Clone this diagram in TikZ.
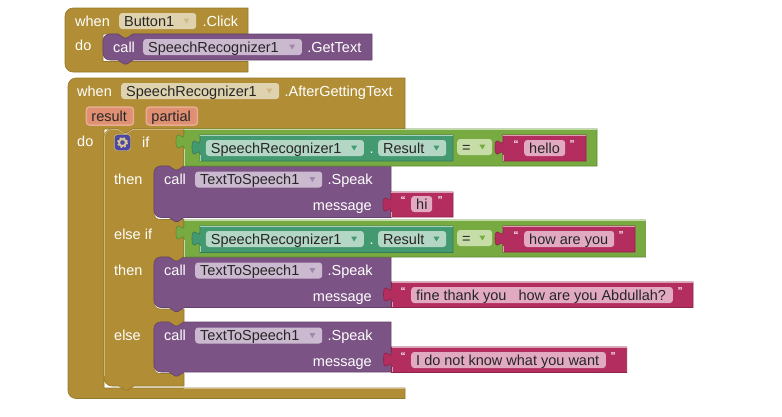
\documentclass[tikz,border=0pt]{standalone}
\usepackage{fontspec}
\setmainfont{Liberation Sans}
\usetikzlibrary{positioning}

\definecolor{goldc}{HTML}{B18E35}
\definecolor{purplec}{HTML}{7C5385}
\definecolor{greenc}{HTML}{77AB41}
\definecolor{tealc}{HTML}{439970}
\definecolor{pinkc}{HTML}{B32D5E}
\definecolor{goldpill}{HTML}{DFD2AE}
\definecolor{purplepill}{HTML}{CBBACF}
\definecolor{greenpill}{HTML}{C7DDA8}
\definecolor{tealpill}{HTML}{B4D6C5}
\definecolor{pinkpill}{HTML}{E1AAC1}
\definecolor{varfill}{HTML}{E08F72}
\definecolor{varline}{HTML}{E8AC92}
\definecolor{gearc}{HTML}{4B47A3}

\newcommand{\labelfont}{\fontsize{14.5}{16}\selectfont}
\newcommand{\notchR}{-- ++(6,4) -- ++(3,0) -- ++(6,-4)}
\newcommand{\notchL}{-- ++(-6,4) -- ++(-3,0) -- ++(-6,-4)}

\tikzset{
    blocktext/.style={text=white, font=\labelfont, inner sep=0pt, text height=13pt, text depth=3pt, anchor=west},
    fieldbox/.style={rounded corners=3pt, font=\labelfont, text=black!85, inner xsep=5pt, inner ysep=0pt,
        text height=13pt, text depth=3pt, anchor=west},
    varbox/.style={fieldbox, draw=varline, fill=varfill, line width=1.5pt, inner xsep=5pt, inner ysep=1pt},
    quotetext/.style={text=white, font=\fontsize{10}{10}\selectfont\bfseries, inner sep=0pt},
    gearbox/.style={draw=goldpill, fill=gearc, rounded corners=3pt, minimum size=16pt, inner sep=0pt}
}

% field with a dropdown triangle: name, x, y, width, colour, triangle colour, text
\newcommand{\fieldnode}[7]{
    \node[fieldbox, fill=#5] (#1) at (#2,#3) {\makebox[\dimexpr#4pt-10pt\relax][l]{#7}};
    \fill[#6] ([xshift=-13pt,yshift=2.5pt]#1.east) -- ++(6,0) -- ++(-3,5) -- cycle;
}
% plain field: name, x, y, width, colour, text
\newcommand{\textnode}[6]{
    \node[fieldbox, fill=#5] (#1) at (#2,#3) {\makebox[\dimexpr#4pt-10pt\relax][l]{#6}};
}
% socket block: colour, x0, y0, x1, y1
\newcommand{\valueblock}[5]{
    \path[fill=#1, draw=#1!80!black, line width=.6pt] (#2,#3) -- ++(0,5)
        .. controls +(0,10) and +(0,-15.5) .. ++(-8,7.5)
        .. controls +(0,15.5) and +(0,-10) .. ++(8,7.5)
        -- (#2,#5) -- (#4,#5) -- (#4,#3) -- cycle;
    \draw[#1!45!white, line width=.7pt] ({#2+.4},{#3+20}) -- ({#2+.4},{#5-.4}) (#2,{#3+.4}) -- (#4,{#3+.4});
}
% call block: x0, y0, x1, y1
\newcommand{\callblock}[4]{
    \path[fill=purplec, draw=purplec!80!black, line width=.6pt] (#1,{#2+9}) [rounded corners=7pt] -- (#1,#2) [sharp corners]
        -- ({#1+15},#2) \notchR -- (#3,#2) -- (#3,#4) -- ({#1+30},#4) \notchL -- ({#1+15},#4)
        [rounded corners=7pt] -- (#1,#4) [sharp corners] -- (#1,{#4-9}) -- cycle;
}

\begin{document}
\begin{tikzpicture}[x=1pt, y=-1pt]
    \useasboundingbox (0,0) rectangle (782,416);

    % When Button1
    \path[fill=goldc, draw=goldc!85!black, line width=.6pt] (65,18) [rounded corners=8pt] -- (65,8) [sharp corners]
        -- (248,8) -- (248,34) -- (133,34) \notchL -- (103,34) -- (103,61.5) -- (248,61.5) -- (248,72)
        [rounded corners=8pt] -- (65,72) [sharp corners] -- (65,62) -- cycle;
    \callblock{103}{34}{372}{60}
    \node[blocktext] (when1) at (75,21) {when};
    \fieldnode{button}{119}{21}{77}{goldpill}{goldc!60!white}{Button1}
    \node[blocktext, right=6pt of button] (click) {.Click};
    \node[blocktext] (do1) at (75,45) {do};
    \node[blocktext] (call1) at (113,47) {call};
    \fieldnode{recog1}{143}{47}{158.7}{purplepill}{purplec!70!white}{SpeechRecognizer1}
    \node[blocktext, right=5pt of recog1] (gettext) {.GetText};

    % When SpeechRecognizer1
    \path[fill=goldc, draw=goldc!85!black, line width=.6pt] (68,88) [rounded corners=8pt] -- (68,78) [sharp corners]
        -- (405,78) -- (405,129) -- (133,129) \notchL -- (104,129) -- (104,388) -- (405,388) -- (405,398.5)
        [rounded corners=8pt] -- (68,398.5) [sharp corners] -- (68,388) -- cycle;
    \draw[goldc!60!white, line width=.7pt] (184,388) -- (405,388);
    \node[blocktext] (when2) at (77,91) {when};
    \fieldnode{recog2}{121}{91}{158}{goldpill}{goldc!60!white}{SpeechRecognizer1}
    \node[blocktext, right=5pt of recog2] (after) {.AfterGettingText};
    \node[varbox] (result) at (85.7,116) {\makebox[37pt][l]{result}};
    \node[varbox] (partial) at (145.7,116) {\makebox[41pt][l]{partial}};
    \node[blocktext] (do2) at (77,141) {do};

    % If block
    \path[fill=goldc, draw=goldc!85!black, line width=.6pt] (104,139) [rounded corners=8pt] -- (104,129) [sharp corners]
        -- (118,129) \notchR -- (184,129) -- (184,166) -- (183,166) \notchL
        [rounded corners=6pt] -- (154,166) -- (154,219.5) [sharp corners] -- (184,219.5) -- (184,257) -- (183,257) \notchL
        [rounded corners=6pt] -- (154,257) -- (154,309) [sharp corners] -- (184,309) -- (184,322) -- (183,322) \notchL
        [rounded corners=6pt] -- (154,322) -- (154,373.5) [sharp corners] -- (184,373.5) -- (184,386) -- (134,386) \notchL
        -- (114,386) [rounded corners=8pt] -- (104,386) [sharp corners] -- (104,376) -- cycle;
    \draw[goldc!65!white, line width=.7pt] (104.4,376) -- (104.4,139) [rounded corners=8pt] -- (104.4,129.4) [sharp corners] -- (118,129.4) \notchR -- (184,129.4);
    \callblock{154}{166}{391}{217.5}
    \callblock{154}{257}{391}{307.5}
    \callblock{154}{322}{391}{372}

    \node[gearbox] (gear) at (122.5,142.5) {};
    \draw[goldpill!80!goldc, line width=1.8pt] (gear.center) circle (3.4);
    \draw[goldpill!80!goldc, line width=1.6pt, dash pattern=on 1.9pt off 2pt] (gear.center) circle (4.9);
    \node[blocktext] (iflabel) at (142,142) {if};
    \node[blocktext] (then1) at (114,179) {then};
    \node[blocktext] (elseif) at (114,234) {else if};
    \node[blocktext] (then2) at (114,270) {then};
    \node[blocktext] (elselabel) at (114,335) {else};

    % First test
    \valueblock{greenc}{184}{129}{597}{166}
    \valueblock{tealc}{200}{135}{453}{161}
    \fieldnode{test1}{205.7}{148}{158}{tealpill}{tealc}{SpeechRecognizer1}
    \node[blocktext] (dot1) at (369.5,148) {.};
    \fieldnode{prop1}{378}{148}{68}{tealpill}{tealc}{Result}
    \fieldnode{equal1}{457}{147}{35}{greenpill}{greenc}{=}
    \valueblock{pinkc}{503}{135}{586}{161}
    \node[quotetext] (open1) at (516,144) {“};
    \textnode{hello}{524}{148}{41}{pinkpill}{hello}
    \node[quotetext] (close1) at (572,144) {”};

    % Second test
    \valueblock{greenc}{184}{220}{645.6}{257}
    \valueblock{tealc}{200}{226}{453}{252.5}
    \fieldnode{test2}{205.7}{239}{158}{tealpill}{tealc}{SpeechRecognizer1}
    \node[blocktext] (dot2) at (369.5,239) {.};
    \fieldnode{prop2}{378}{239}{68}{tealpill}{tealc}{Result}
    \fieldnode{equal2}{457}{238}{35}{greenpill}{greenc}{=}
    \valueblock{pinkc}{503}{226}{635}{252}
    \node[quotetext] (open2) at (516,235) {“};
    \textnode{how}{524}{239}{90}{pinkpill}{how are you}
    \node[quotetext] (close2) at (621,235) {”};

    % First call
    \node[blocktext] (call2) at (164,179.5) {call};
    \fieldnode{speech1}{195}{179.5}{127}{purplepill}{purplec!70!white}{TextToSpeech1}
    \node[blocktext, right=5pt of speech1] (speak1) {.Speak};
    \node[blocktext, anchor=east] (message1) at (372,205) {message};
    \valueblock{pinkc}{391}{192}{453}{217}
    \node[quotetext] (open3) at (403,200) {“};
    \textnode{hi}{411}{204}{21}{pinkpill}{hi}
    \node[quotetext] (close3) at (440,200) {”};

    % Second call
    \node[blocktext] (call3) at (164,270.5) {call};
    \fieldnode{speech2}{195}{270.5}{127}{purplepill}{purplec!70!white}{TextToSpeech1}
    \node[blocktext, right=5pt of speech2] (speak2) {.Speak};
    \node[blocktext, anchor=east] (message2) at (372,296) {message};
    \valueblock{pinkc}{391.5}{282}{693}{307.5}
    \node[quotetext] (open4) at (403,291) {“};
    \textnode{fine}{411}{295}{261.7}{pinkpill}{fine thank you\ \ \ how are you Abdullah?}
    \node[quotetext] (close4) at (680,291) {”};

    % Third call
    \node[blocktext] (call4) at (164,335.5) {call};
    \fieldnode{speech3}{195}{335.5}{127}{purplepill}{purplec!70!white}{TextToSpeech1}
    \node[blocktext, right=5pt of speech3] (speak3) {.Speak};
    \node[blocktext, anchor=east] (message3) at (372,361) {message};
    \valueblock{pinkc}{391.5}{347}{626.7}{372.5}
    \node[quotetext] (open5) at (403,356) {“};
    \textnode{dunno}{411}{360}{194.7}{pinkpill}{I do not know what you want}
    \node[quotetext] (close5) at (613,356) {”};
\end{tikzpicture}
\end{document}
